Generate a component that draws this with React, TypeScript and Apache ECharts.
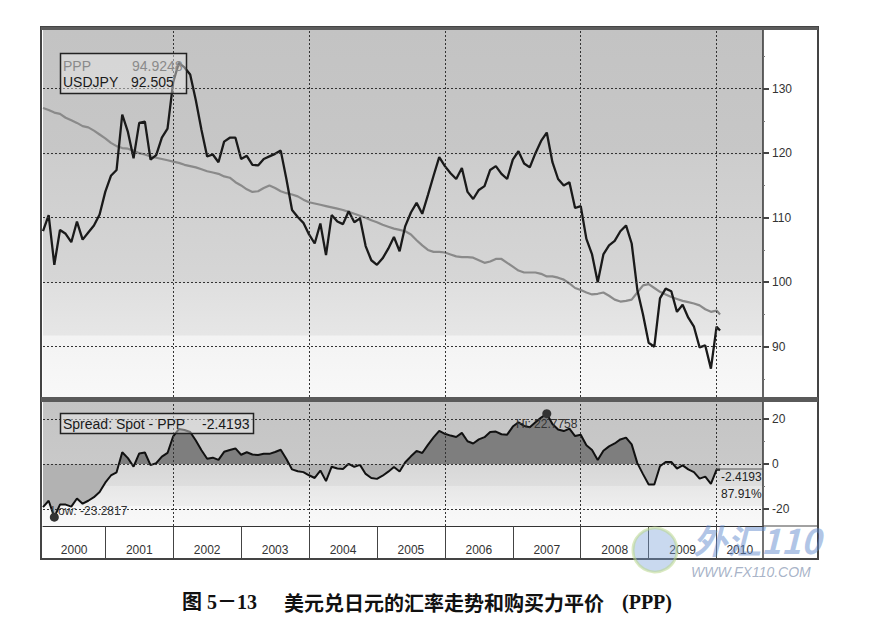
import React, { useEffect, useRef } from "react";
import * as echarts from "echarts";

const FONT = "'Liberation Sans', Arial, sans-serif";

// Month-end observation dates (the last one is a partial month)
const DATES: string[] = [];
for (let y = 2000; y <= 2009; y++) {
  for (let m = 1; m <= 12; m++) DATES.push(`${y}-${String(m).padStart(2, "0")}-end`);
}
DATES.push("2010-01-19");

// USD/JPY monthly closes
const USDJPY = [
  107.9, 110.4, 102.7, 108.1, 107.5, 106.2, 109.4, 106.6, 107.7, 108.8, 110.5, 114.0,
  116.5, 117.4, 126.0, 123.3, 119.2, 124.7, 124.9, 119.0, 119.7, 122.4, 123.8, 131.0,
  134.0, 133.3, 132.2, 128.2, 123.6, 119.5, 119.8, 118.6, 121.8, 122.4, 122.4, 119.1,
  119.6, 118.2, 118.1, 119.1, 119.5, 119.9, 120.4, 116.0, 111.2, 110.1, 109.2, 107.4,
  106.0, 109.1, 104.2, 110.4, 109.4, 109.0, 111.0, 109.3, 109.9, 105.6, 103.4, 102.7,
  103.7, 105.2, 107.0, 104.8, 108.7, 110.8, 112.3, 110.6, 113.5, 116.5, 119.4, 118.0,
  116.9, 116.0, 117.7, 114.0, 112.9, 114.3, 114.9, 117.4, 118.0, 116.8, 116.0, 119.0,
  120.3, 118.4, 117.8, 120.0, 121.9, 123.2, 118.6, 116.0, 115.0, 115.5, 111.5, 111.8,
  106.7, 104.3, 100.0, 104.3, 105.7, 106.4, 107.9, 108.8, 106.0, 98.8, 95.0, 90.6,
  90.0, 97.5, 99.0, 98.6, 95.4, 96.5, 94.5, 93.1, 89.9, 90.2, 86.6, 93.1,
  92.505,
];

// Purchasing power parity level
const PPP = [
  127.0, 126.7, 126.3, 126.1, 125.5, 125.1, 124.7, 124.2, 124.0, 123.5, 122.9, 122.3,
  121.6, 121.1, 120.8, 120.7, 120.4, 120.0, 119.8, 119.5, 119.3, 119.1, 118.9, 118.7,
  118.5, 118.2, 118.0, 117.8, 117.5, 117.2, 117.0, 116.8, 116.4, 116.2, 115.5, 115.0,
  114.4, 114.0, 114.1, 114.6, 115.0, 114.6, 114.1, 113.8, 113.6, 113.3, 112.8, 112.4,
  112.2, 112.0, 111.8, 111.6, 111.4, 111.2, 110.9, 110.6, 110.3, 110.0, 109.6, 109.3,
  108.9, 108.6, 108.3, 108.1, 107.9, 107.4, 106.5, 105.7, 105.0, 104.7, 104.7, 104.6,
  104.3, 104.0, 103.9, 103.9, 103.8, 103.4, 103.0, 103.2, 103.6, 103.6, 103.0, 102.4,
  101.8, 101.5, 101.5, 101.5, 101.3, 100.9, 100.9, 100.7, 100.4, 99.8, 99.1, 98.8,
  98.4, 98.1, 98.2, 98.4, 97.9, 97.3, 97.0, 97.1, 97.3, 98.4, 99.5, 99.7,
  99.1, 98.5, 98.1, 97.7, 97.4, 97.1, 96.9, 96.7, 96.4, 95.8, 95.4, 95.6,
  95.0,
];

const YEARS = ["2000", "2001", "2002", "2003", "2004", "2005", "2006", "2007", "2008", "2009", "2010"];
const PRICE_TICKS = [90, 100, 110, 120, 130];
const PRICE_MINOR = [85, 95, 105, 115, 125, 135];
const SPREAD_TICKS = [-20, 0, 20];
const SPREAD_MINOR = [-10, 10];

const LEGEND_PPP = "94.9248";
const LEGEND_USDJPY = "92.505";
const LEGEND_SPREAD = "-2.4193";
const HI_TEXT = "Hi: 22.7758";
const LOW_TEXT = "Low: -23.2817";
const END_PCT = "87.91%";

const X_MIN = 1;
const X_MAX = 128.2;

function datePos(s: string): number {
  const [y, m, d] = s.split("-");
  const yy = +y;
  const mm = +m;
  if (d === "end") return (yy - 2000) * 12 + mm;
  const dim = new Date(yy, mm, 0).getDate();
  return (yy - 2000) * 12 + mm - 1 + +d / dim;
}

const XPOS = DATES.map(datePos);
const SPREAD = USDJPY.map((v, i) => +(v - PPP[i]).toFixed(4));

const yearStarts = YEARS.slice(1).map((_, i) => (i + 1) * 12);
const yearLabelPos = YEARS.map((_, i) => {
  const a = Math.max(i * 12, X_MIN);
  const b = Math.min((i + 1) * 12, X_MAX);
  return (a + b) / 2;
});

const gridDash = {
  silent: true,
  symbol: ["none", "none"],
  label: { show: false },
  lineStyle: { type: [2, 2], color: "#333", width: 1 },
  emphasis: { disabled: true },
};

function buildOption() {
  const spMax = Math.max(0, ...SPREAD);
  const spMin = Math.min(0, ...SPREAD);
  const cut = spMax / (spMax - spMin);

  const topBg = new echarts.graphic.LinearGradient(0, 0, 0, 1, [
    { offset: 0, color: "#c3c3c3" },
    { offset: 0.34, color: "#c7c7c7" },
    { offset: 0.34, color: "#cdcdcd" },
    { offset: 0.69, color: "#d6d6d6" },
    { offset: 0.69, color: "#dfdfdf" },
    { offset: 0.83, color: "#e6e6e6" },
    { offset: 0.835, color: "#f3f3f3" },
    { offset: 1, color: "#f8f8f8" },
  ]);
  const botBg = new echarts.graphic.LinearGradient(0, 0, 0, 1, [
    { offset: 0, color: "#c4c4c4" },
    { offset: 0.5, color: "#c9c9c9" },
    { offset: 0.5, color: "#d7d7d7" },
    { offset: 0.68, color: "#dedede" },
    { offset: 0.68, color: "#e7e7e7" },
    { offset: 0.84, color: "#eeeeee" },
    { offset: 0.84, color: "#f6f6f6" },
    { offset: 1, color: "#f9f9f9" },
  ]);

  const pppData = XPOS.map((x, i) => [x, PPP[i]]);
  const fxData = XPOS.map((x, i) => [x, USDJPY[i]]);
  const spData = XPOS.map((x, i) => [x, SPREAD[i]]);

  const axisText = { color: "#333", fontSize: 12, fontFamily: FONT };

  return {
    animation: false,
    backgroundColor: "#ffffff",
    grid: [
      { left: 43, top: 30, width: 720, height: 367, show: true, backgroundColor: topBg, borderWidth: 0 },
      { left: 43, top: 402, width: 720, height: 124, show: true, backgroundColor: botBg, borderWidth: 0 },
    ],
    xAxis: [
      { gridIndex: 0, type: "value", min: X_MIN, max: X_MAX, show: false },
      {
        gridIndex: 1,
        type: "value",
        min: X_MIN,
        max: X_MAX,
        axisLine: { show: true, onZero: false, lineStyle: { color: "#333", width: 1 } },
        axisTick: { show: true, customValues: yearStarts, length: 33, lineStyle: { color: "#444" } },
        axisLabel: {
          ...axisText,
          customValues: yearLabelPos,
          margin: 18,
          formatter: (v: number) => YEARS[Math.min(YEARS.length - 1, Math.floor(v / 12))],
        },
        splitLine: { show: false },
      },
    ],
    yAxis: [
      {
        gridIndex: 0,
        type: "value",
        position: "right",
        min: 82.2,
        max: 139.1,
        axisLine: { show: true, lineStyle: { color: "#333", width: 1.5 } },
        axisTick: { show: true, customValues: PRICE_TICKS, length: 6, lineStyle: { color: "#444", width: 2 } },
        axisLabel: { ...axisText, customValues: PRICE_TICKS, margin: 9 },
        splitLine: { show: false },
      },
      {
        gridIndex: 0,
        type: "value",
        position: "right",
        min: 82.2,
        max: 139.1,
        axisLine: { show: false },
        axisTick: { show: true, customValues: PRICE_MINOR, length: 2, lineStyle: { color: "#777", width: 1 } },
        axisLabel: { show: false },
        splitLine: { show: false },
      },
      {
        gridIndex: 1,
        type: "value",
        position: "right",
        min: -27.5,
        max: 27.5,
        axisLine: { show: true, lineStyle: { color: "#333", width: 1.5 } },
        axisTick: { show: true, customValues: SPREAD_TICKS, length: 6, lineStyle: { color: "#444", width: 2 } },
        axisLabel: { ...axisText, customValues: SPREAD_TICKS, margin: 9 },
        splitLine: { show: false },
      },
      {
        gridIndex: 1,
        type: "value",
        position: "right",
        min: -27.5,
        max: 27.5,
        axisLine: { show: false },
        axisTick: { show: true, customValues: SPREAD_MINOR, length: 2, lineStyle: { color: "#777", width: 1 } },
        axisLabel: { show: false },
        splitLine: { show: false },
      },
    ],
    series: [
      {
        name: "PPP",
        type: "line",
        xAxisIndex: 0,
        yAxisIndex: 0,
        data: pppData,
        showSymbol: false,
        lineStyle: { color: "#8a8a8a", width: 2.2 },
        z: 2,
        markLine: {
          ...gridDash,
          data: [
            ...PRICE_TICKS.map((v) => ({ yAxis: v })),
            ...yearStarts.filter((v) => v % 24 === 0).map((v) => ({ xAxis: v })),
          ],
        },
      },
      {
        name: "USDJPY",
        type: "line",
        xAxisIndex: 0,
        yAxisIndex: 0,
        data: fxData,
        showSymbol: false,
        lineStyle: { color: "#1a1a1a", width: 2.3 },
        z: 3,
      },
      {
        name: "Spread",
        type: "line",
        xAxisIndex: 1,
        yAxisIndex: 2,
        data: spData,
        showSymbol: false,
        lineStyle: { color: "#111", width: 2 },
        areaStyle: {
          opacity: 1,
          color: new echarts.graphic.LinearGradient(0, 0, 0, 1, [
            { offset: 0, color: "#7e7e7e" },
            { offset: cut, color: "#7e7e7e" },
            { offset: cut, color: "#b2b2b2" },
            { offset: 1, color: "#b2b2b2" },
          ]),
        },
        z: 2,
        markLine: {
          ...gridDash,
          data: [
            ...SPREAD_TICKS.map((v) => ({ yAxis: v })),
            ...yearStarts.filter((v) => v % 24 === 0).map((v) => ({ xAxis: v })),
          ],
        },
        markPoint: {
          symbol: "circle",
          symbolSize: 9,
          itemStyle: { color: "#333" },
          label: { color: "#333", fontSize: 12, fontFamily: FONT },
          data: [
            { type: "max", label: { formatter: HI_TEXT, position: "bottom", distance: 0 } },
            { type: "min", label: { formatter: LOW_TEXT, position: "inside", offset: [35, -6] } },
          ],
        },
      },
    ],
    graphic: [
      // frame
      { type: "rect", z: 100, silent: true, shape: { x: 41, y: 27, width: 777, height: 532 }, style: { fill: "none", stroke: "#444", lineWidth: 2 } },
      { type: "rect", z: 100, silent: true, shape: { x: 41, y: 27, width: 777, height: 3 }, style: { fill: "#5c5c5c" } },
      { type: "rect", z: 100, silent: true, shape: { x: 41, y: 397, width: 777, height: 5 }, style: { fill: "#5a5a5a" } },
      { type: "line", z: 100, silent: true, shape: { x1: 763, y1: 526, x2: 818, y2: 526 }, style: { stroke: "#444", lineWidth: 1 } },
      { type: "line", z: 100, silent: true, shape: { x1: 763, y1: 526, x2: 763, y2: 559 }, style: { stroke: "#444", lineWidth: 1.5 } },
      // top legend
      { type: "rect", z: 50, silent: true, shape: { x: 60.5, y: 53.5, width: 126, height: 40 }, style: { fill: "rgba(238,238,238,0.45)", stroke: "#222", lineWidth: 1.5 } },
      { type: "text", z: 51, silent: true, style: { x: 63, y: 65.5, text: "PPP", fill: "#8a8a8a", fontSize: 14, fontFamily: FONT, textVerticalAlign: "middle" } },
      { type: "text", z: 51, silent: true, style: { x: 132, y: 65.5, text: LEGEND_PPP, fill: "#8a8a8a", fontSize: 14, fontFamily: FONT, textVerticalAlign: "middle" } },
      { type: "text", z: 51, silent: true, style: { x: 63, y: 81.5, text: "USDJPY", fill: "#1a1a1a", fontSize: 14, fontFamily: FONT, textVerticalAlign: "middle" } },
      { type: "text", z: 51, silent: true, style: { x: 131, y: 81.5, text: LEGEND_USDJPY, fill: "#1a1a1a", fontSize: 14, fontFamily: FONT, textVerticalAlign: "middle" } },
      // bottom legend
      { type: "rect", z: 50, silent: true, shape: { x: 60.5, y: 413.5, width: 193, height: 20 }, style: { fill: "rgba(238,238,238,0.45)", stroke: "#222", lineWidth: 1.5 } },
      { type: "text", z: 51, silent: true, style: { x: 63, y: 423.5, text: "Spread: Spot - PPP", fill: "#1a1a1a", fontSize: 14, fontFamily: FONT, textVerticalAlign: "middle" } },
      { type: "text", z: 51, silent: true, style: { x: 202, y: 423.5, text: LEGEND_SPREAD, fill: "#1a1a1a", fontSize: 14, fontFamily: FONT, textVerticalAlign: "middle" } },
      // end labels
      { type: "line", z: 51, silent: true, shape: { x1: 717, y1: 469, x2: 763, y2: 469 }, style: { stroke: "#555", lineWidth: 1 } },
      { type: "text", z: 51, silent: true, style: { x: 721, y: 477, text: LEGEND_SPREAD, fill: "#222", fontSize: 12, fontFamily: FONT, textVerticalAlign: "middle" } },
      { type: "text", z: 51, silent: true, style: { x: 721, y: 494, text: END_PCT, fill: "#222", fontSize: 12, fontFamily: FONT, textVerticalAlign: "middle" } },
      // watermark
      { type: "circle", z: 110, silent: true, shape: { cx: 655, cy: 550, r: 22 }, style: { fill: "rgba(120,160,215,0.4)", stroke: "rgba(185,215,140,0.55)", lineWidth: 3 } },
      { type: "text", z: 110, silent: true, style: { x: 693, y: 539, text: "外汇110", fill: "rgba(100,140,205,0.5)", fontSize: 34, fontWeight: "bold", fontStyle: "italic", fontFamily: "'Noto Sans CJK SC', sans-serif", textVerticalAlign: "middle" } },
      { type: "text", z: 110, silent: true, style: { x: 691, y: 572, text: "WWW.FX110.COM", fill: "rgba(145,160,185,0.8)", fontSize: 14, fontStyle: "italic", fontFamily: FONT, textVerticalAlign: "middle" } },
      // caption
      { type: "text", z: 110, silent: true, style: { x: 182, y: 602, text: "图 5－13", fill: "#111", fontSize: 20, fontWeight: "bold", fontFamily: "'Liberation Serif', 'Noto Sans CJK SC', serif", textVerticalAlign: "middle" } },
      { type: "text", z: 110, silent: true, style: { x: 284, y: 602, text: "美元兑日元的汇率走势和购买力平价", fill: "#111", fontSize: 20, fontWeight: "bold", fontFamily: "'Noto Sans CJK SC', sans-serif", textVerticalAlign: "middle" } },
      { type: "text", z: 110, silent: true, style: { x: 622, y: 602, text: "(PPP)", fill: "#111", fontSize: 20, fontWeight: "bold", fontFamily: "'Liberation Serif', serif", textVerticalAlign: "middle" } },
    ],
  };
}

export default function App() {
  const ref = useRef<HTMLDivElement>(null);
  useEffect(() => {
    if (!ref.current) return;
    const chart = echarts.init(ref.current, null, { renderer: "svg" });
    chart.setOption(buildOption() as any);
    return () => {
      chart.dispose();
    };
  }, []);
  return (
    <div
      ref={ref}
      style={{ position: "fixed", left: 0, top: 0, width: 887, height: 642, background: "#ffffff" }}
    />
  );
}
